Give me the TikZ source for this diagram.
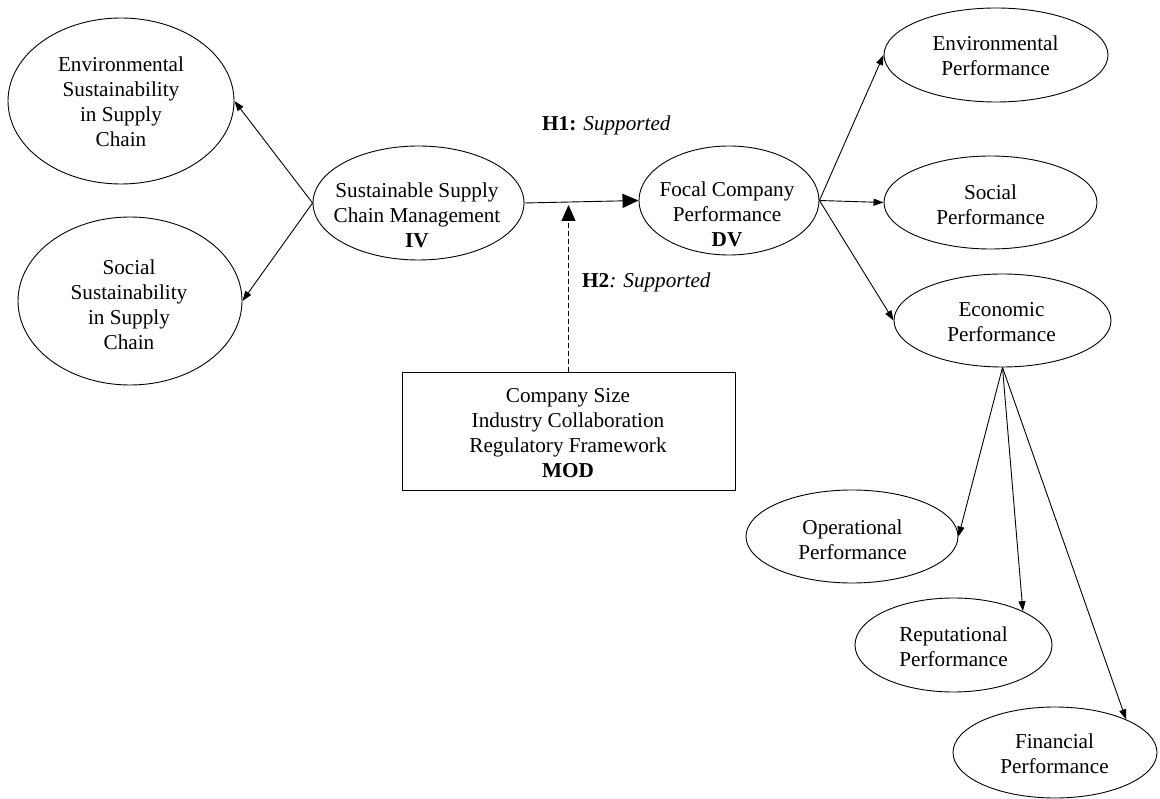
\documentclass[tikz,border=0pt]{standalone}
\usepackage{fontspec}
\setmainfont{Liberation Serif}
\usetikzlibrary{shapes.geometric,arrows.meta}
\begin{document}
\begin{tikzpicture}[x=1pt,y=-1pt,
 ell/.style={draw,ellipse,line width=0.9pt,inner sep=0pt},
 modbox/.style={draw,rectangle,line width=0.9pt,inner sep=0pt,minimum width=333pt,minimum height=118pt},
 txt/.style={align=center,font=\fontsize{21.2}{25}\selectfont,inner sep=0pt},
 arr/.style={line width=0.9pt,-{Triangle[length=10pt,width=7pt]}},
 bigarr/.style={line width=0.9pt,-{Triangle[length=16pt,width=14pt]}}]
\useasboundingbox (0,0) rectangle (1160,799);
% ellipses
\node[ell,minimum width=226pt,minimum height=166pt] (envs) at (121,101) {};
\node[ell,minimum width=224pt,minimum height=168pt] (socs) at (130,301) {};
\node[ell,minimum width=211pt,minimum height=114pt] (sscm) at (418.5,203) {};
\node[ell,minimum width=180pt,minimum height=109pt] (focal) at (729,200.5) {};
\node[ell,minimum width=224pt,minimum height=94pt] (envp) at (996,55) {};
\node[ell,minimum width=213pt,minimum height=93pt] (socp) at (990.5,202.5) {};
\node[ell,minimum width=217pt,minimum height=93pt] (econ) at (1002.5,320.5) {};
\node[ell,minimum width=212pt,minimum height=93pt] (oper) at (852,536.5) {};
\node[ell,minimum width=197pt,minimum height=94pt] (rep) at (953.5,645) {};
\node[ell,minimum width=204pt,minimum height=91pt] (fin) at (1055,752.5) {};
\node[modbox] (mod) at (568.5,431) {};
% texts
\node[txt] (envs-t) at (121,102) {Environmental\\Sustainability\\in Supply\\Chain};
\node[txt] (socs-t) at (129,305) {Social\\Sustainability\\in Supply\\Chain};
\node[txt] (sscm-t) at (417,215) {Sustainable Supply\\Chain Management\\\textbf{IV}};
\node[txt] (focal-t) at (727,214) {Focal Company\\Performance\\\textbf{DV}};
\node[txt] (envp-t) at (995.5,56) {Environmental\\Performance};
\node[txt] (socp-t) at (990.5,204.5) {Social\\Performance};
\node[txt] (econ-t) at (1001.5,322) {Economic\\Performance};
\node[txt] (oper-t) at (852.5,540) {Operational\\Performance};
\node[txt] (rep-t) at (953.5,647) {Reputational\\Performance};
\node[txt] (fin-t) at (1054.5,754) {Financial\\Performance};
\node[txt] (mod-t) at (568,433) {Company Size\\Industry Collaboration\\Regulatory Framework\\\textbf{MOD}};
\node[txt,anchor=west] (h1) at (542,125) {\textbf{H1:} \textit{Supported}};
\node[txt,anchor=west] (h2) at (582,282) {\textbf{H2}\textit{: Supported}};
% connectors
\draw[arr] (sscm.west) -- (envs.east);
\draw[arr] (sscm.west) -- (socs.east);
\draw[bigarr] (sscm.east) -- (focal.west);
\coordinate (h2end) at (568.5,205);
\draw[bigarr,dash pattern=on 5pt off 3pt] (mod.north) -- (h2end);
\draw[arr] (focal.east) -- (envp.west);
\draw[arr] (focal.east) -- (socp.west);
\draw[arr] (focal.east) -- (econ.west);
\draw[arr] (econ.south) -- (oper.east);
\draw[arr] (econ.south) -- (rep.26);
\draw[arr] (econ.south) -- (fin.25);
\end{tikzpicture}
\end{document}
